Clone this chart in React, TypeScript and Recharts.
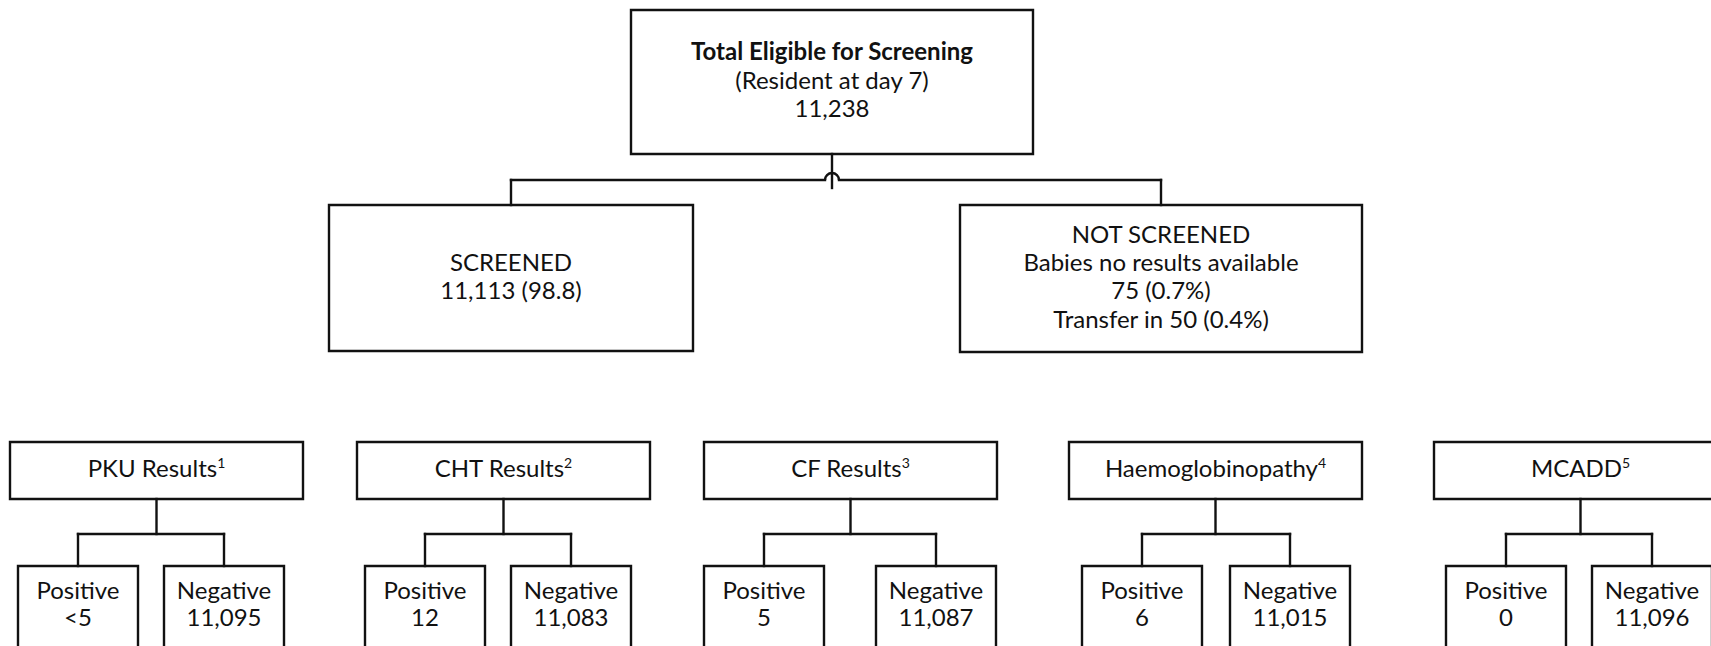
import React from 'react';
import {
  ScatterChart,
  Scatter,
  XAxis,
  YAxis,
  ReferenceArea,
  ReferenceLine,
  ReferenceDot,
} from 'recharts';

// ---------- data ----------
const totalEligible = '11,238';
const screenedCount = '11,113';
const screenedPct = '98.8';
const noResultsCount = '75';
const noResultsPct = '0.7%';
const transferInCount = '50';
const transferInPct = '0.4%';

const tests = ['PKU Results', 'CHT Results', 'CF Results', 'Haemoglobinopathy', 'MCADD'];
const footnotes = ['1', '2', '3', '4', '5'];
const positives = ['<5', '12', '5', '6', '0'];
const negatives = ['11,095', '11,083', '11,087', '11,015', '11,096'];

// ---------- layout (diagram units = pixels) ----------
const W = 1711;
const H = 646;
const topBox = { x1: 631, x2: 1033, y1: 10, y2: 154 };
const screenedBox = { x1: 329, x2: 693, y1: 205, y2: 351 };
const notScreenedBox = { x1: 960, x2: 1362, y1: 205, y2: 352 };
const testBoxLeft = [10, 357, 704, 1069, 1434];
const testBoxW = 293;
const testBoxY = [442, 499];
const posLeft = [18, 365, 704, 1082, 1446];
const negLeft = [164, 511, 876, 1230, 1592];
const childW = 120;
const childY = [566, 720];
const branchY = 534;
const splitY = 180;
const hopR = 7;

const STROKE = '#111';
const SW = 2.4;
const FONT = 'Lato, "Open Sans", sans-serif';

const cx = (b: { x1: number; x2: number }) => (b.x1 + b.x2) / 2;
const cy = (b: { y1: number; y2: number }) => (b.y1 + b.y2) / 2;

type Line = { text: string; bold?: boolean; sup?: string };
type Box = { x1: number; x2: number; y1: number; y2: number };

const boxes: Box[] = [topBox, screenedBox, notScreenedBox];
const textNodes: { x: number; y: number; lh: number; lines: Line[] }[] = [
  {
    x: cx(topBox),
    y: cy(topBox),
    lh: 28.5,
    lines: [
      { text: 'Total Eligible for Screening', bold: true },
      { text: '(Resident at day 7)' },
      { text: totalEligible },
    ],
  },
  {
    x: cx(screenedBox),
    y: cy(screenedBox),
    lh: 28,
    lines: [{ text: 'SCREENED' }, { text: `${screenedCount} (${screenedPct})` }],
  },
  {
    x: cx(notScreenedBox),
    y: cy(notScreenedBox),
    lh: 28.4,
    lines: [
      { text: 'NOT SCREENED' },
      { text: 'Babies no results available' },
      { text: `${noResultsCount} (${noResultsPct})` },
      { text: `Transfer in ${transferInCount} (${transferInPct})` },
    ],
  },
];

const segments: { x: number; y: number }[][] = [];
const mid = cx(topBox);
segments.push([{ x: mid, y: topBox.y2 }, { x: mid, y: splitY + 8 }]);
segments.push([{ x: cx(screenedBox), y: splitY }, { x: mid - hopR, y: splitY }]);
segments.push([{ x: mid + hopR, y: splitY }, { x: cx(notScreenedBox), y: splitY }]);
segments.push([{ x: cx(screenedBox), y: splitY }, { x: cx(screenedBox), y: screenedBox.y1 }]);
segments.push([{ x: cx(notScreenedBox), y: splitY }, { x: cx(notScreenedBox), y: notScreenedBox.y1 }]);

tests.forEach((t, i) => {
  const tb = { x1: testBoxLeft[i], x2: testBoxLeft[i] + testBoxW, y1: testBoxY[0], y2: testBoxY[1] };
  const pb = { x1: posLeft[i], x2: posLeft[i] + childW, y1: childY[0], y2: childY[1] };
  const nb = { x1: negLeft[i], x2: negLeft[i] + childW, y1: childY[0], y2: childY[1] };
  boxes.push(tb, pb, nb);
  textNodes.push({ x: cx(tb), y: cy(tb), lh: 27, lines: [{ text: t, sup: footnotes[i] }] });
  textNodes.push({ x: cx(pb), y: childY[0] + 39.5, lh: 27, lines: [{ text: 'Positive' }, { text: positives[i] }] });
  textNodes.push({ x: cx(nb), y: childY[0] + 39.5, lh: 27, lines: [{ text: 'Negative' }, { text: negatives[i] }] });
  segments.push([{ x: cx(tb), y: tb.y2 }, { x: cx(tb), y: branchY }]);
  segments.push([{ x: cx(pb), y: branchY }, { x: cx(nb), y: branchY }]);
  segments.push([{ x: cx(pb), y: branchY }, { x: cx(pb), y: pb.y1 }]);
  segments.push([{ x: cx(nb), y: branchY }, { x: cx(nb), y: nb.y1 }]);
});

const FS = 24;

const renderText = (props: any) => {
  const { cx: px, cy: py, payload } = props;
  const lines: Line[] = payload.lines;
  const n = lines.length;
  return (
    <text textAnchor="middle" fontFamily={FONT} fontSize={FS} fill="#111">
      {lines.map((l, i) => (
        <tspan
          key={i}
          x={px}
          y={py + (i - (n - 1) / 2) * payload.lh + FS * 0.28}
          fontWeight={l.bold ? 700 : 400}
        >
          {l.text}
          {l.sup ? (
            <tspan dy={-9} fontSize={14}>
              {l.sup}
            </tspan>
          ) : null}
        </tspan>
      ))}
    </text>
  );
};

const lineShape = (props: any) => (
  <line
    x1={props.x1}
    y1={props.y1}
    x2={props.x2}
    y2={props.y2}
    stroke={STROKE}
    strokeWidth={SW}
    strokeLinecap="square"
  />
);

const hopShape = (props: any) => {
  const { cx: px, cy: py } = props;
  return (
    <path
      d={`M${px - hopR},${py} A${hopR},${hopR} 0 0 1 ${px + hopR},${py}`}
      fill="none"
      stroke={STROKE}
      strokeWidth={SW}
    />
  );
};

export default function App() {
  return (
    <div style={{ position: 'absolute', left: 0, top: 0, width: W, height: H, background: '#fff' }}>
      <ScatterChart width={W} height={H} margin={{ top: 0, right: 0, bottom: 0, left: 0 }}>
        <XAxis type="number" dataKey="x" domain={[0, W]} hide allowDataOverflow />
        <YAxis type="number" dataKey="y" domain={[0, H]} reversed hide allowDataOverflow />
        {segments.map((s, i) => (
          <ReferenceLine
            key={`s${i}`}
            segment={s as any}
            stroke={STROKE}
            strokeWidth={SW}
            shape={lineShape}
            ifOverflow="visible"
          />
        ))}
        {boxes.map((b, i) => (
          <ReferenceArea
            key={`b${i}`}
            x1={b.x1}
            x2={b.x2}
            y1={b.y1}
            y2={b.y2}
            fill="#fff"
            fillOpacity={1}
            stroke={STROKE}
            strokeWidth={SW}
            ifOverflow="visible"
          />
        ))}
        <ReferenceDot x={mid} y={splitY} r={hopR} shape={hopShape} ifOverflow="visible" />
        <Scatter data={textNodes} shape={renderText} isAnimationActive={false} />
      </ScatterChart>
    </div>
  );
}
